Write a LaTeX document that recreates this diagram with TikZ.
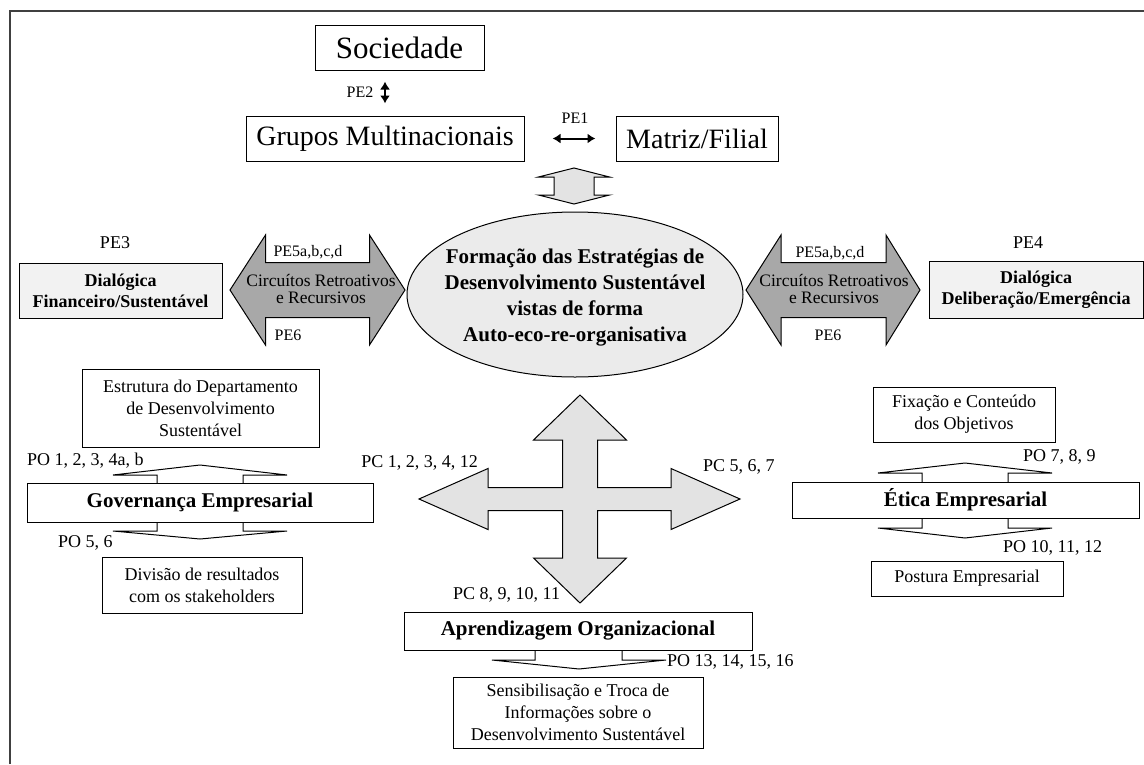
\documentclass[tikz,border=0pt]{standalone}
\usepackage{fontspec}
\setmainfont{Liberation Serif}
\usetikzlibrary{shapes.geometric,arrows.meta}
\definecolor{lightfill}{HTML}{E3E3E3}
\definecolor{ovalfill}{HTML}{EBEBEB}
\definecolor{darkfill}{HTML}{A8A8A8}
\definecolor{paleBox}{HTML}{F2F2F2}
\definecolor{frameline}{HTML}{404040}
\newcommand{\fs}[2]{\fontsize{#1}{#2}\selectfont}
\tikzset{
  box/.style={draw, line width=1pt, inner sep=0pt, align=center},
  bigbox/.style={box, font=\fs{28}{34}},
  titlebox/.style={box, font=\bfseries\fs{21}{26}},
  textbox/.style={box, font=\fs{18}{22}},
  dialbox/.style={box, fill=paleBox, font=\bfseries\fs{18}{21}},
  lbl/.style={inner sep=0pt, font=\fs{18}{22}},
  smalllbl/.style={inner sep=0pt, font=\fs{16}{20}},
  circtext/.style={inner sep=0pt, align=center, font=\fs{17.5}{17}},
  hollow/.style={draw, line width=1pt, fill=white},
  block/.style={draw, line width=1pt, line join=miter},
  thinarrow/.style={line width=2pt, {Latex[length=8pt,width=10pt]}-{Latex[length=8pt,width=10pt]}},
}
\begin{document}
\begin{tikzpicture}[x=1pt,y=-1pt]
\useasboundingbox (0,0) rectangle (1144,764);
\fill[white] (0,0) rectangle (1144,764);
% outer frame
\draw[frameline, line width=1.5pt] (10,764) -- (10,11) -- (1144,11);

% top row
\node[bigbox, minimum width=169pt, minimum height=45pt, font=\fs{31}{36}] (soc) at (399.5,47.5) {Sociedade};
\node[bigbox, minimum width=278pt, minimum height=45pt] (grp) at (385,138.5) {Grupos Multinacionais};
\node[bigbox, minimum width=162pt, minimum height=45pt] (mat) at (697,138.5) {Matriz/Filial};
\draw[thinarrow, shorten <=12pt, shorten >=11pt] (grp.north) -- (grp.north |- soc.south);
\node[smalllbl] (pe2) at (360,92) {PE2};
\draw[thinarrow, shorten <=28pt, shorten >=20pt] (grp.east) -- (mat.west);
\node[smalllbl] (pe1) at (575,118) {PE1};

% short block arrow down to the oval
\begin{scope}[shift={(574,186)}]
\filldraw[block, fill=lightfill] (0,-18) -- (35.5,-9) -- (20,-9) -- (20,9) -- (35.5,9) -- (0,18)
  -- (-35.5,9) -- (-20,9) -- (-20,-9) -- (-35.5,-9) -- cycle;
\end{scope}

% central oval
\node[draw, line width=1pt, ellipse, fill=ovalfill, minimum width=336pt, minimum height=165pt] (core) at (575,294.5) {};
\node[inner sep=0pt, align=center, font=\bfseries\fs{21}{26}] (coretxt) at (575,297.5)
  {Formação das Estratégias de\\Desenvolvimento Sustentável\\vistas de forma\\Auto-eco-re-organisativa};

% feedback arrows
\begin{scope}[shift={(317.5,290)}]
\filldraw[block, fill=darkfill] (-87.5,0) -- (-52,-55) -- (-52,-27.5) -- (52,-27.5) -- (52,-55) -- (87.5,0)
  -- (52,55) -- (52,27.5) -- (-52,27.5) -- (-52,55) -- cycle;
\end{scope}
\node[circtext] (circL) at (321,289) {Circuítos Retroativos\\e Recursivos};
\begin{scope}[shift={(833,290)}]
\filldraw[block, fill=darkfill] (-87,0) -- (-52,-55) -- (-52,-27.5) -- (53,-27.5) -- (53,-55) -- (87,0)
  -- (53,55) -- (53,27.5) -- (-52,27.5) -- (-52,55) -- cycle;
\end{scope}
\node[circtext] (circR) at (834,289) {Circuítos Retroativos\\e Recursivos};
\node[smalllbl] (pe5L) at (308,252) {PE5a,b,c,d};
\node[smalllbl] (pe6L) at (288,335) {PE6};
\node[smalllbl] (pe5R) at (830,253) {PE5a,b,c,d};
\node[smalllbl] (pe6R) at (828,335) {PE6};

% dialogic boxes
\node[dialbox, minimum width=203pt, minimum height=55pt] (dialF) at (120.5,290.5) {Dialógica\\Financeiro/Sustentável};
\node[dialbox, minimum width=214pt, minimum height=57pt] (dialD) at (1036,289.5) {Dialógica\\Deliberação/Emergência};
\node[lbl] (pe3) at (115,243) {PE3};
\node[lbl] (pe4) at (1028,243) {PE4};

% four-way arrow
\begin{scope}[shift={(580,499)}]
\filldraw[block, fill=lightfill]
  (0,-104) -- (46.5,-59) -- (17.5,-59) -- (17.5,-11.5) -- (91,-11.5) -- (91,-30.5) -- (160,0)
  -- (91,30.5) -- (91,11.5) -- (17.5,11.5) -- (17.5,59) -- (46.5,59) -- (0,104)
  -- (-46.5,59) -- (-17.5,59) -- (-17.5,11.5) -- (-92,11.5) -- (-92,30.5) -- (-161,0)
  -- (-92,-30.5) -- (-92,-11.5) -- (-17.5,-11.5) -- (-17.5,-59) -- (-46.5,-59) -- cycle;
\end{scope}
\node[lbl, anchor=east] (pcA) at (478,463) {PC 1, 2, 3, 4, 12};
\node[lbl, anchor=west] (pcB) at (703,467) {PC 5, 6, 7};
\node[lbl, anchor=west] (pcC) at (453,595) {PC 8, 9, 10, 11};

% governance
\node[textbox, minimum width=237pt, minimum height=78pt] (estr) at (200.5,408) {Estrutura do Departamento\\de Desenvolvimento\\Sustentável};
\begin{scope}[shift={(200,483)}]
\draw[hollow] (-43,0) -- (-43,-8) -- (-87,-8) -- (0,-18) -- (87,-8) -- (43,-8) -- (43,0);
\end{scope}
\begin{scope}[shift={(200,522)}]
\draw[hollow] (-43,0) -- (-43,9) -- (-87,9) -- (0,17) -- (87,9) -- (43,9) -- (43,0);
\end{scope}
\node[titlebox, minimum width=346pt, minimum height=39pt] (gov) at (200,502.5) {Governança Empresarial};
\node[textbox, minimum width=200pt, minimum height=56pt] (div) at (202,585) {Divisão de resultados\\com os stakeholders};
\node[lbl, anchor=west] (poA) at (27,461) {PO 1, 2, 3, 4a, b};
\node[lbl, anchor=west] (poB) at (58,543) {PO 5, 6};

% ethics
\node[textbox, minimum width=182pt, minimum height=55pt] (fix) at (964,414.5) {Fixação e Conteúdo\\dos Objetivos};
\begin{scope}[shift={(965,482)}]
\draw[hollow] (-43,0) -- (-43,-9) -- (-87,-9) -- (0,-19) -- (87,-9) -- (43,-9) -- (43,0);
\end{scope}
\begin{scope}[shift={(965,518)}]
\draw[hollow] (-43,0) -- (-43,10) -- (-87,10) -- (0,20) -- (87,10) -- (43,10) -- (43,0);
\end{scope}
\node[titlebox, minimum width=347pt, minimum height=36pt] (eti) at (965.5,500) {Ética Empresarial};
\node[textbox, minimum width=192pt, minimum height=35pt] (pos) at (967,578.5) {Postura Empresarial};
\node[lbl, anchor=west] (poC) at (1023,457) {PO 7, 8, 9};
\node[lbl, anchor=west] (poD) at (1003,548) {PO 10, 11, 12};

% learning
\begin{scope}[shift={(579,650)}]
\draw[hollow] (-44,0) -- (-44,10) -- (-87,10) -- (0,19) -- (87,10) -- (43,10) -- (43,0);
\end{scope}
\node[titlebox, minimum width=348pt, minimum height=38pt] (apr) at (578,631) {Aprendizagem Organizacional};
\node[textbox, minimum width=250pt, minimum height=71pt] (sen) at (578,712.5) {Sensibilisação e Troca de\\Informações sobre o\\Desenvolvimento Sustentável};
\node[lbl, anchor=west] (poE) at (667,662) {PO 13, 14, 15, 16};
\end{tikzpicture}
\end{document}
